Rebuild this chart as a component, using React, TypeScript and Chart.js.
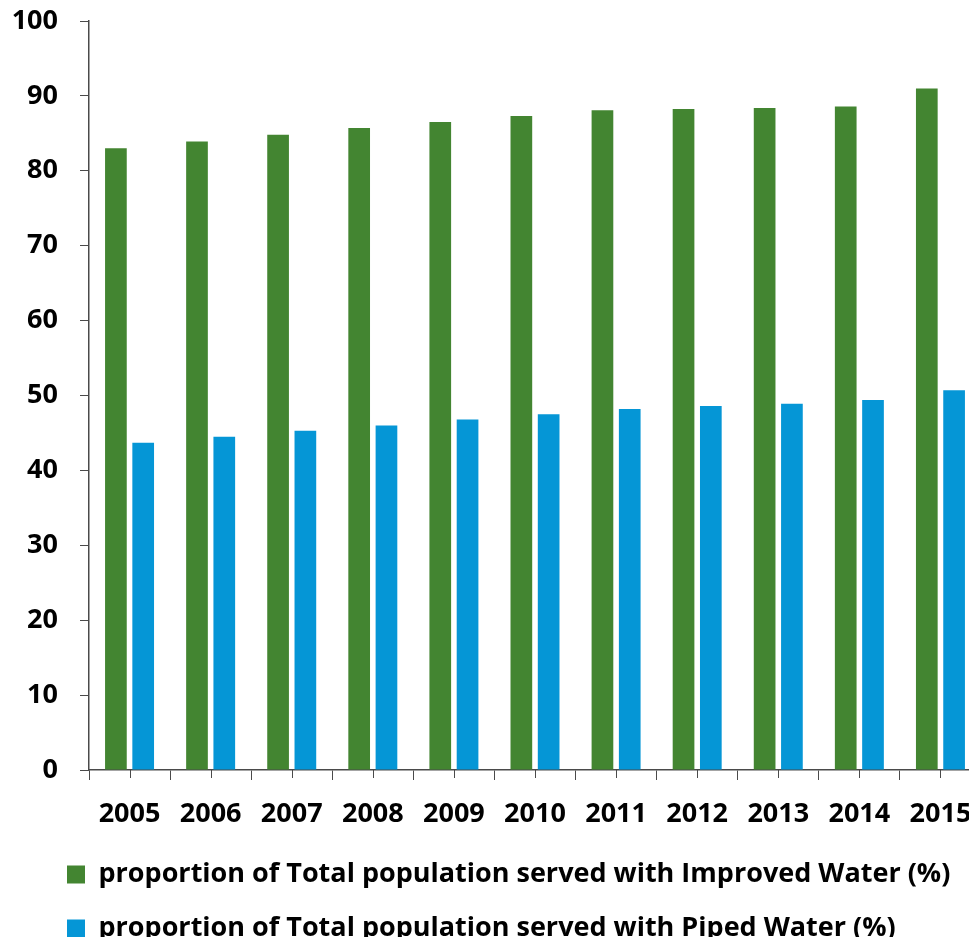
import React, { useEffect, useRef } from "react";
import { Chart, registerables } from "chart.js";

Chart.register(...registerables);

const years = ["2005", "2006", "2007", "2008", "2009", "2010", "2011", "2012", "2013", "2014", "2015"];
const improvedWater = [83.0, 83.9, 84.8, 85.7, 86.5, 87.3, 88.1, 88.25, 88.4, 88.6, 91.0];
const pipedWater = [43.7, 44.5, 45.3, 46.0, 46.8, 47.5, 48.2, 48.6, 48.9, 49.4, 50.7];
const seriesLabels = [
  "proportion of Total population served with Improved Water (%)",
  "proportion of Total population served with Piped Water (%)",
];
const yTicks = [0, 10, 20, 30, 40, 50, 60, 70, 80, 90, 100];

const GREEN = "#438531";
const BLUE = "#0596D6";
const AXIS = "#4a4a4a";
const FONT = "'Open Sans'";

const centerTicks = {
  id: "centerTicks",
  afterDraw(chart: any) {
    const x = chart.scales.x;
    const ctx = chart.ctx;
    ctx.save();
    ctx.strokeStyle = AXIS;
    ctx.lineWidth = 1;
    for (let i = 0; i < years.length; i++) {
      const px = Math.round(x.getPixelForValue(i)) + 0.5;
      ctx.beginPath();
      ctx.moveTo(px, x.top);
      ctx.lineTo(px, x.top + 8);
      ctx.stroke();
    }
    ctx.restore();
  },
};

const layoutTweak = {
  id: "layoutTweak",
  afterLayout(chart: any) {
    const lg = chart.legend;
    if (lg) {
      lg.left = 32;
      lg.top = lg.top + 7;
      lg.bottom = lg.bottom + 7;
    }
  },
};

export default function App() {
  const ref = useRef<HTMLCanvasElement | null>(null);
  useEffect(() => {
    if (!ref.current) return;
    const chart = new Chart(ref.current, {
      type: "bar",
      data: {
        labels: years,
        datasets: [
          {
            label: seriesLabels[0],
            data: improvedWater,
            backgroundColor: GREEN,
            borderWidth: 0,
            categoryPercentage: 0.673,
            barPercentage: 0.795,
          },
          {
            label: seriesLabels[1],
            data: pipedWater,
            backgroundColor: BLUE,
            borderWidth: 0,
            categoryPercentage: 0.673,
            barPercentage: 0.795,
          },
        ],
      },
      options: {
        responsive: false,
        animation: false,
        layout: { padding: { top: 13, left: 0, right: 2, bottom: 0 } },
        plugins: {
          tooltip: { enabled: false },
          legend: {
            position: "bottom",
            align: "start",
            labels: {
              boxWidth: 18,
              boxHeight: 18,
              padding: 27,
              color: "#000",
              font: { family: FONT, size: 27, weight: "bold" },
            },
          },
        },
        scales: {
          x: {
            grid: {
              offset: true,
              drawOnChartArea: false,
              drawTicks: true,
              tickLength: 10,
              color: AXIS,
            },
            border: { display: true, color: AXIS, width: 1.5 },
            ticks: {
              color: "#000",
              padding: 18,
              font: { family: FONT, size: 27, weight: "bold" },
              maxRotation: 0,
              autoSkip: false,
            },
            afterFit: (s: any) => {
              s.height = 57;
              s.paddingLeft = 0;
              s.paddingRight = 0;
            },
          },
          y: {
            min: 0,
            max: 100,
            afterBuildTicks: (s: any) => {
              s.ticks = yTicks.map((v) => ({ value: v }));
            },
            grid: {
              drawOnChartArea: false,
              drawTicks: true,
              tickLength: 9,
              color: AXIS,
            },
            border: { display: true, color: AXIS, width: 1.5 },
            ticks: {
              color: "#000",
              padding: 22,
              font: { family: FONT, size: 27, weight: "bold" },
            },
            afterFit: (s: any) => {
              s.width = 81;
              s.paddingTop = 0;
              s.paddingBottom = 0;
            },
          },
        },
      },
      plugins: [centerTicks, layoutTweak],
    });
    return () => chart.destroy();
  }, []);
  return (
    <div style={{ width: 961, height: 937, overflow: "hidden", marginBottom: -8 }}>
      <canvas ref={ref} width={975} height={937} style={{ display: "block" }} />
    </div>
  );
}
